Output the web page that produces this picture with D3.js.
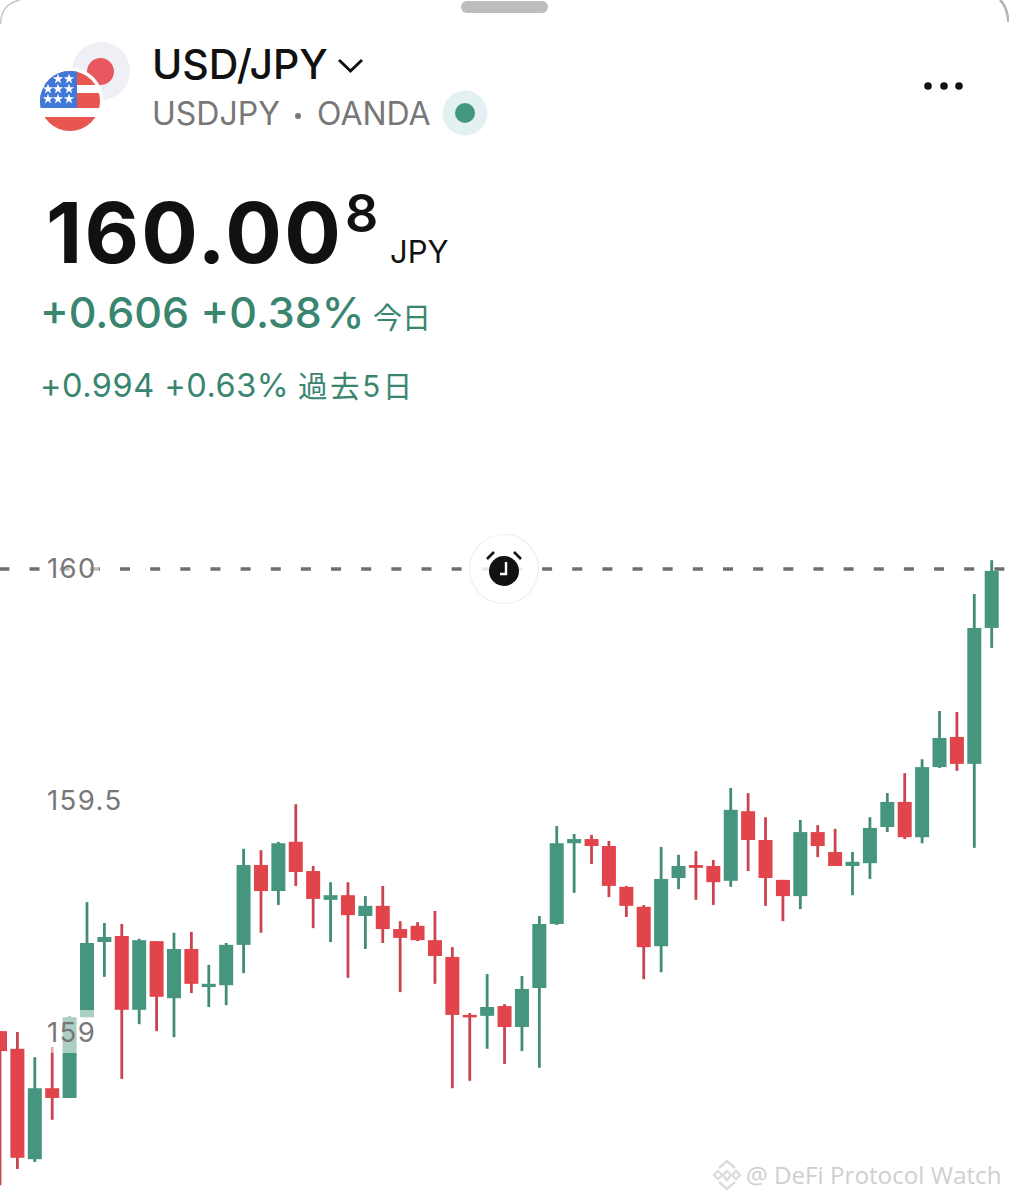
<!DOCTYPE html>
<html lang="ja">
<head>
    <meta charset="UTF-8">
    <title>USD/JPY</title>
    <script src="https://cdn.jsdelivr.net/npm/d3@7"></script>
    <style>
        html, body { margin: 0; padding: 0; background: #fff; }
        svg { display: block; }
        text { font-family: Inter, "Noto Sans CJK JP", sans-serif; }
    </style>
</head>
<body>
<script type="application/javascript">

    let w = 1009, h = 1200;

    // prices, one candle per index
    let opens = [159.004, 158.966, 158.728, 158.881, 158.860, 159.034, 159.196, 159.209, 159.050, 159.198,
        159.075, 159.181, 159.099, 159.103, 159.190, 159.362, 159.306, 159.412, 159.349, 159.287,
        159.297, 159.252, 159.274, 159.224, 159.231, 159.200, 159.164, 159.039, 159.037, 159.058,
        159.013, 159.097, 159.235, 159.409, 159.418, 159.403, 159.315, 159.272, 159.187, 159.334,
        159.362, 159.360, 159.328, 159.478, 159.416, 159.330, 159.295, 159.433, 159.390, 159.360,
        159.366, 159.444, 159.498, 159.422, 159.573, 159.638, 159.580, 159.873];
    let closes = [158.961, 158.731, 158.881, 158.860, 159.034, 159.194, 159.207, 159.050, 159.200, 159.078,
        159.181, 159.106, 159.106, 159.190, 159.362, 159.306, 159.409, 159.347, 159.289, 159.297,
        159.254, 159.274, 159.224, 159.205, 159.200, 159.166, 159.039, 159.034, 159.056, 159.013,
        159.095, 159.235, 159.409, 159.418, 159.403, 159.317, 159.274, 159.185, 159.332, 159.360,
        159.356, 159.325, 159.481, 159.416, 159.334, 159.295, 159.433, 159.403, 159.360, 159.369,
        159.442, 159.498, 159.422, 159.573, 159.636, 159.580, 159.873, 159.996];
    let highs = [159.004, 159.002, 158.948, 158.970, 159.037, 159.282, 159.237, 159.235, 159.203, 159.198,
        159.216, 159.218, 159.147, 159.194, 159.397, 159.394, 159.412, 159.493, 159.360, 159.325,
        159.325, 159.295, 159.317, 159.241, 159.239, 159.263, 159.185, 159.043, 159.127, 159.062,
        159.123, 159.252, 159.446, 159.429, 159.427, 159.414, 159.317, 159.276, 159.401, 159.384,
        159.392, 159.373, 159.528, 159.517, 159.465, 159.330, 159.459, 159.448, 159.440, 159.390,
        159.465, 159.517, 159.560, 159.590, 159.694, 159.692, 159.946, 160.019];
    let lows = [158.672, 158.707, 158.722, 158.813, 158.860, 159.034, 159.121, 158.901, 159.019, 159.004,
        158.991, 159.086, 159.056, 159.060, 159.129, 159.216, 159.276, 159.317, 159.226, 159.196,
        159.119, 159.181, 159.194, 159.088, 159.198, 159.106, 158.881, 158.897, 158.966, 158.933,
        158.961, 158.925, 159.233, 159.302, 159.364, 159.293, 159.250, 159.116, 159.131, 159.310,
        159.287, 159.276, 159.315, 159.349, 159.274, 159.241, 159.267, 159.379, 159.360, 159.297,
        159.332, 159.433, 159.418, 159.409, 159.571, 159.565, 159.399, 159.830];
    let priceTicks = [160, 159.5, 159];

    let green = '#46957f', red = '#e1444b';
    let greenWick = '#418c79', redWick = '#c9444f';

    let candles = d3.range(opens.length);

    let x = d3.scaleLinear().domain([0, 57]).range([0, 991.7]);
    let y = d3.scaleLinear().domain([159, 160]).range([1033, 569]);

    let svg = d3.select('body')
        .append('svg')
        .attr('width', w)
        .attr('height', h);

    svg.append('rect').attr('width', w).attr('height', h).attr('fill', '#fff');

    // rounded corners of the sheet
    svg.append('path').attr('d', 'M0.5 24 Q1 4 20 0').attr('fill', 'none').attr('stroke', '#c8c8c8').attr('stroke-width', 1.5);
    svg.append('path').attr('d', 'M1000 0 Q1007 6 1008.5 22').attr('fill', 'none').attr('stroke', '#b5b5b5').attr('stroke-width', 2.5);

    // drag handle
    svg.append('rect').attr('x', 461).attr('y', 1).attr('width', 87).attr('height', 12).attr('rx', 6).attr('fill', '#bdbdbd');

    // pair flags
    svg.append('circle').attr('cx', 101).attr('cy', 71).attr('r', 29).attr('fill', '#eef0f6');
    svg.append('circle').attr('cx', 100.5).attr('cy', 71.5).attr('r', 13.5).attr('fill', '#e9585f');
    svg.append('circle').attr('cx', 70).attr('cy', 101).attr('r', 33.5).attr('fill', '#fff');

    let defs = svg.append('defs');
    defs.append('clipPath').attr('id', 'us').append('circle').attr('cx', 70).attr('cy', 101).attr('r', 30);
    let us = svg.append('g').attr('clip-path', 'url(#us)');
    us.append('rect').attr('x', 40).attr('y', 71).attr('width', 60).attr('height', 60).attr('fill', '#fff');
    [[71, 14], [93, 15], [117, 14]].forEach(s => {
        us.append('rect').attr('x', 40).attr('y', s[0]).attr('width', 60).attr('height', s[1]).attr('fill', '#e8564f');
    });
    us.append('rect').attr('x', 40).attr('y', 71).attr('width', 37).attr('height', 37).attr('fill', '#3f78d8');
    let star = d3.symbol().type(d3.symbolStar).size(34);
    [[58, 79], [69, 79], [48, 89], [58, 89], [69, 89], [48, 99], [58, 99], [69, 99]].forEach(s => {
        us.append('path').attr('d', star()).attr('transform', 'translate(' + s[0] + ',' + s[1] + ')').attr('fill', '#fff');
    });

    // header text
    svg.append('text').attr('x', 152).attr('y', 78.5).attr('font-size', 41).attr('font-weight', 500).attr('fill', '#111').text('USD/JPY');
    svg.append('path').attr('d', 'M339 60 L350.5 71 L362 60').attr('fill', 'none').attr('stroke', '#111').attr('stroke-width', 3);
    svg.append('text').attr('x', 152).attr('y', 125).attr('font-size', 32).attr('fill', '#777').text('USDJPY');
    svg.append('circle').attr('cx', 298).attr('cy', 116).attr('r', 3).attr('fill', '#777');
    svg.append('text').attr('x', 317).attr('y', 125).attr('font-size', 32).attr('fill', '#777').text('OANDA');
    svg.append('circle').attr('cx', 465).attr('cy', 113).attr('r', 22.5).attr('fill', '#e3f1f3');
    svg.append('circle').attr('cx', 465).attr('cy', 113).attr('r', 10).attr('fill', '#43977f');

    // menu dots
    [928, 944, 959].forEach(cx => {
        svg.append('circle').attr('cx', cx).attr('cy', 86).attr('r', 3.8).attr('fill', '#111');
    });

    // quote
    svg.append('text').attr('x', 46).attr('y', 263).attr('font-size', 84).attr('font-weight', 700).attr('letter-spacing', 2.2).attr('fill', '#111').text('160.00');
    svg.append('text').attr('x', 345).attr('y', 232).attr('font-size', 52).attr('font-weight', 600).attr('fill', '#111').text('8');
    svg.append('text').attr('x', 390).attr('y', 263).attr('font-size', 31).attr('fill', '#111').text('JPY');

    svg.append('text').attr('x', 40).attr('y', 328).attr('font-size', 43).attr('font-weight', 500).attr('fill', '#3a8570').text('+0.606 +0.38%');
    svg.append('text').attr('x', 373).attr('y', 329).attr('font-size', 29).attr('fill', '#3a8570').text('今日');
    svg.append('text').attr('x', 40).attr('y', 397).attr('font-size', 32.5).attr('letter-spacing', 0.5).attr('fill', '#3a8570').text('+0.994 +0.63%');
    svg.append('text').attr('x', 298).attr('y', 397).attr('font-size', 29.5).attr('letter-spacing', 2.6).attr('fill', '#3a8570').text('過去5日');

    // candles
    let gCandle = svg.selectAll('g.candle')
        .data(candles)
        .enter()
        .append('g')
        .attr('class', 'candle');

    gCandle.append('line')
        .attr('x1', i => x(i))
        .attr('x2', i => x(i))
        .attr('y1', i => y(highs[i]))
        .attr('y2', i => y(lows[i]))
        .attr('stroke', i => closes[i] >= opens[i] ? greenWick : redWick)
        .attr('stroke-width', 2.8);

    gCandle.append('rect')
        .attr('x', i => x(i) - 7)
        .attr('width', 14)
        .attr('y', i => y(Math.max(opens[i], closes[i])))
        .attr('height', i => Math.max(2.5, Math.abs(y(opens[i]) - y(closes[i]))))
        .attr('fill', i => closes[i] >= opens[i] ? green : red);

    // current price line
    svg.append('line')
        .attr('x1', -0.6).attr('x2', w)
        .attr('y1', y(160)).attr('y2', y(160))
        .attr('stroke', '#6f6f6f')
        .attr('stroke-width', 3.4)
        .attr('stroke-dasharray', '10 20.15');

    // label backings fade whatever is behind the ticks
    [160, 159].forEach(p => {
        svg.append('rect').attr('x', 47).attr('y', y(p) - 23).attr('width', 52).attr('height', 43)
            .attr('fill', '#fff').attr('opacity', 0.55);
    });

    let axis = d3.axisRight(y)
        .tickValues(priceTicks)
        .tickSize(0)
        .tickPadding(0)
        .tickFormat(d3.format('~f'));

    let gAxis = svg.append('g').attr('transform', 'translate(47,0)').call(axis);
    gAxis.select('.domain').remove();
    gAxis.selectAll('text')
        .attr('font-size', 27.5)
        .attr('letter-spacing', 1.4)
        .attr('fill', '#777')
        .style('font-family', 'Inter, sans-serif');

    // alarm button
    svg.append('circle').attr('cx', 504).attr('cy', 569).attr('r', 34.5).attr('fill', '#fff').attr('fill-opacity', 0.85).attr('stroke', '#efefef').attr('stroke-width', 1.2);
    svg.append('circle').attr('cx', 504).attr('cy', 571).attr('r', 15).attr('fill', '#111');
    svg.append('path').attr('d', 'M506 562 V574 H500').attr('fill', 'none').attr('stroke', '#fff').attr('stroke-width', 2.4);
    svg.append('path').attr('d', 'M487 559 L494 552 M521 559 L514 552').attr('fill', 'none').attr('stroke', '#111').attr('stroke-width', 2.6);

    // watermark
    let mark = svg.append('g').attr('fill', 'none').attr('stroke', '#dcdcdc').attr('stroke-width', 2.4);
    mark.append('path').attr('d', 'M719 1168 L727 1161 L735 1168');
    mark.append('path').attr('d', 'M719 1182 L727 1189 L735 1182');
    mark.append('path').attr('d', 'M714 1175 L718 1171 L722 1175 L718 1179 Z');
    mark.append('path').attr('d', 'M732 1175 L736 1171 L740 1175 L736 1179 Z');
    mark.append('path').attr('d', 'M727 1171 L731 1175 L727 1180 L723 1175 Z');
    svg.append('text').attr('x', 746).attr('y', 1184).attr('font-size', 24.2)
        .attr('fill', '#cfcfcf').style('font-family', '"Open Sans", sans-serif').text('@ DeFi Protocol Watch');

</script>
</body>
</html>
